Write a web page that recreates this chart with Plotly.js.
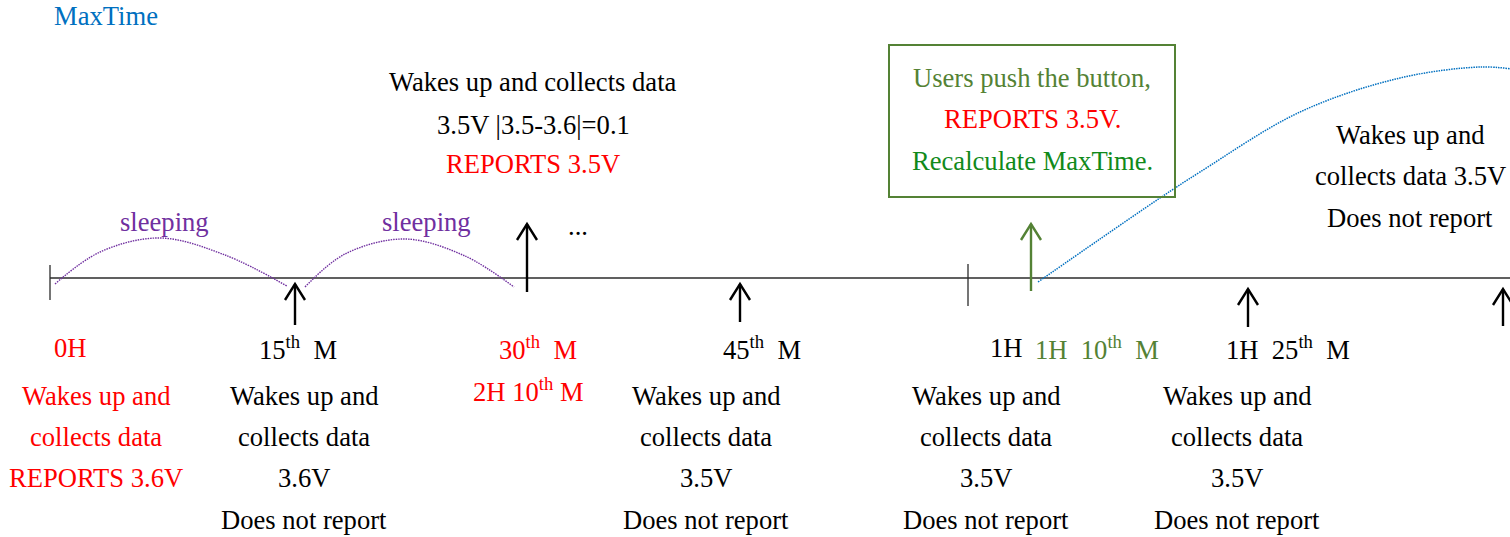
<!DOCTYPE html>
<html>
<head>
<meta charset="utf-8">
<script src="https://cdn.plot.ly/plotly-3.0.1.min.js"></script>
<style>html,body{margin:0;padding:0;background:#fff;}#chart{width:1510px;height:537px;}</style>
</head>
<body>
<div id="chart"></div>
<script>
// ---------- data ----------
const NB = '\u00a0';
const timeLabels = ['0H', '15<sup>th</sup>' + NB + NB + 'M', '30<sup>th</sup>' + NB + NB + 'M', '45<sup>th</sup>' + NB + NB + 'M', '1H', '1H' + NB + NB + '10<sup>th</sup>' + NB + NB + 'M', '1H' + NB + NB + '25<sup>th</sup>' + NB + NB + 'M'];
const timeLabelColors = ['#ff0000', '#000000', '#ff0000', '#000000', '#000000', '#548235', '#000000'];
const timeLabelX = [70, 298, 538, 762, 1006, 1097, 1288];

const columnTexts = [
  ['Wakes up and', 'collects data', 'REPORTS 3.6V'],
  ['Wakes up and', 'collects data', '3.6V', 'Does not report'],
  ['Wakes up and', 'collects data', '3.5V', 'Does not report'],
  ['Wakes up and', 'collects data', '3.5V', 'Does not report'],
  ['Wakes up and', 'collects data', '3.5V', 'Does not report']
];
const columnColors = ['#ff0000', '#000000', '#000000', '#000000', '#000000'];
const columnX = [96, 304, 706, 986, 1237];
const columnRowY = [396, 437, 478, 520];

const topTexts = ['Wakes up and collects data', '3.5V |3.5-3.6|=0.1', 'REPORTS 3.5V'];
const topColors = ['#000000', '#000000', '#ff0000'];
const topRowY = [82, 125, 164];

const boxTexts = ['Users push the button,', 'REPORTS 3.5V.', 'Recalculate MaxTime.'];
const boxColors = ['#548235', '#ff0000', '#118a1a'];
const boxRowY = [78, 119, 161];

const rightTexts = ['Wakes up and', 'collects data 3.5V', 'Does not report'];
const rightRowY = [135, 176, 218];

const sleepLabels = ['sleeping', 'sleeping'];
const sleepLabelX = [164, 426];

// arcs (sleeping periods) and MaxTime curve
const arc1X = [55, 100, 160, 225, 287];
const arc1Y = [284, 252, 238, 255, 286];
const arc2X = [305, 345, 405, 465, 514];
const arc2Y = [287, 254, 239, 256, 287];
const maxTimeX = [1038, 1100, 1160, 1200, 1300, 1400, 1480, 1512];
const maxTimeY = [282, 239, 198, 172, 112, 78, 67, 69];

// arrows: x, tail y, head y, colour
const arrowX = [295, 527, 740, 1031, 1248, 1503];
const arrowTail = [325, 292, 322, 291, 327, 326];
const arrowHead = [284, 224, 284, 224, 289, 289];
const arrowColors = ['#000000', '#000000', '#000000', '#548235', '#000000', '#000000'];

const tickX = [50, 968];
const tickTop = [265, 264];
const tickBottom = [300, 306];

// ---------- build ----------
const FONT = '"Liberation Serif", "Times New Roman", Times, serif';
const FS = 26.6;
const traces = [];
const annotations = [];
const shapes = [];

function txt(x, y, text, color, size) {
  annotations.push({x: x, y: y, xref: 'x', yref: 'y', text: text, showarrow: false,
    xanchor: 'center', yanchor: 'middle', font: {family: FONT, size: size || FS, color: color}});
}

// timeline
traces.push({x: [50, 1510], y: [278, 278], mode: 'lines', line: {color: '#2b2b2b', width: 1.6}, hoverinfo: 'skip'});
tickX.forEach((x, i) => traces.push({x: [x, x], y: [tickTop[i], tickBottom[i]], mode: 'lines', line: {color: '#2b2b2b', width: 1.3}, hoverinfo: 'skip'}));

// sleeping arcs
[[arc1X, arc1Y], [arc2X, arc2Y]].forEach(a => traces.push({x: a[0], y: a[1], mode: 'lines',
  line: {color: '#7030a0', width: 1.4, dash: '1.5px,1px', shape: 'spline', smoothing: 1}, hoverinfo: 'skip'}));
// MaxTime curve
traces.push({x: maxTimeX, y: maxTimeY, mode: 'lines', line: {color: '#0070c0', width: 1.5, dash: '1.5px,1px', shape: 'spline', smoothing: 1}, hoverinfo: 'skip'});

// arrows
arrowX.forEach((x, i) => {
  const h = arrowHead[i];
  traces.push({x: [x, x, null, x - 10, x, x + 10], y: [arrowTail[i], h, null, h + 16, h, h + 16],
    mode: 'lines', line: {color: arrowColors[i], width: 2.4}, hoverinfo: 'skip'});
});

// box
shapes.push({type: 'rect', xref: 'x', yref: 'y', x0: 889, x1: 1175, y0: 45, y1: 197, line: {color: '#548235', width: 2}, fillcolor: 'rgba(0,0,0,0)', layer: 'above'});

// texts
txt(106, 16, 'MaxTime', '#0070c0');
timeLabels.forEach((t, i) => txt(timeLabelX[i], 348, t, timeLabelColors[i]));
txt(528, 390, '2H 10<sup>th</sup> M', '#ff0000');
columnTexts.forEach((col, c) => col.forEach((t, r) => txt(columnX[c], columnRowY[r], t, columnColors[c])));
topTexts.forEach((t, i) => txt(533, topRowY[i], t, topColors[i]));
boxTexts.forEach((t, i) => txt(1032, boxRowY[i], t, boxColors[i]));
rightTexts.forEach((t, i) => txt(1410, rightRowY[i], t, '#000000'));
sleepLabels.forEach((t, i) => txt(sleepLabelX[i], 222, t, '#7030a0'));
txt(578, 226, '...', '#000000');

const layout = {
  width: 1510, height: 537,
  margin: {l: 0, r: 0, t: 0, b: 0, pad: 0},
  paper_bgcolor: '#ffffff', plot_bgcolor: '#ffffff',
  showlegend: false,
  xaxis: {range: [0, 1510], visible: false, fixedrange: true},
  yaxis: {range: [537, 0], visible: false, fixedrange: true},
  annotations: annotations,
  shapes: shapes
};
Plotly.newPlot('chart', traces, layout, {staticPlot: true, displayModeBar: false});
</script>
</body>
</html>
